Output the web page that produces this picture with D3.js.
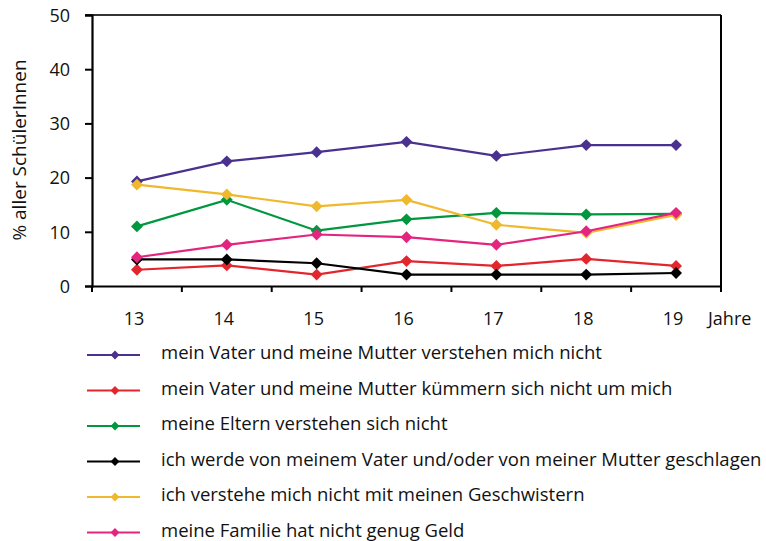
<!DOCTYPE html>
<html><head><meta charset="utf-8">
<script src="https://cdn.jsdelivr.net/npm/d3@7"></script>
<style>body{margin:0;background:#fff}svg{display:block}text{font-family:"Open Sans",sans-serif;fill:#111}</style>
</head><body>
<svg id="c" width="766" height="541"></svg>
<script>
const ages = ["13","14","15","16","17","18","19"];
const yTicks = [0,10,20,30,40,50];
const seriesNames = [
  "mein Vater und meine Mutter verstehen mich nicht",
  "mein Vater und meine Mutter kümmern sich nicht um mich",
  "meine Eltern verstehen sich nicht",
  "ich werde von meinem Vater und/oder von meiner Mutter geschlagen",
  "ich verstehe mich nicht mit meinen Geschwistern",
  "meine Familie hat nicht genug Geld"
];
const seriesColors = ["#4a3190","#e3262d","#00973f","#000000","#f0b82c","#e4257f"];
const vVerstehen = [19.3,23.0,24.7,26.6,24.0,26.0,26.0];
const vKuemmern  = [3.0,3.8,2.1,4.6,3.7,5.0,3.7];
const vEltern    = [11.0,15.9,10.2,12.3,13.5,13.2,13.3];
const vGeschlagen= [4.9,4.9,4.2,2.1,2.1,2.1,2.4];
const vGeschw    = [18.7,16.9,14.7,15.9,11.3,9.8,13.1];
const vGeld      = [5.3,7.6,9.5,9.0,7.6,10.1,13.5];
const allValues = [vVerstehen,vKuemmern,vEltern,vGeschlagen,vGeschw,vGeld];

const svg = d3.select("#c");
const L=92, R=721, T=15, B=286;
const x = d3.scaleBand().domain(ages).range([L,R]);
const y = d3.scaleLinear().domain([0,50]).range([B,T]);

// frame top & right
svg.append("line").attr("x1",L-7).attr("x2",R).attr("y1",T).attr("y2",T).attr("stroke","#333").attr("stroke-width",2);
svg.append("line").attr("x1",R).attr("x2",R).attr("y1",T).attr("y2",B+6).attr("stroke","#000").attr("stroke-width",2);

// y axis
const ya = svg.append("g").attr("transform",`translate(${L},0)`)
  .call(d3.axisLeft(y).tickValues(yTicks).tickSize(7).tickPadding(15));
ya.select(".domain").attr("stroke","#000").attr("stroke-width",2.2);
ya.selectAll(".tick line").attr("stroke","#000").attr("stroke-width",2);
ya.selectAll("text").style("font-size","18px").attr("dy","0.35em").attr("fill","#111");

// x axis
const xa = svg.append("g").attr("transform",`translate(0,${B})`)
  .call(d3.axisBottom(x).tickSize(0).tickPadding(0));
xa.select(".domain").attr("stroke","#000").attr("stroke-width",2.2);
xa.selectAll(".tick line").remove();
xa.selectAll("text").style("font-size","18px").attr("x",-3).attr("y",33).attr("dy","0.35em").attr("fill","#111");
// tick marks at band boundaries
const bounds = ages.map(a=>x(a)).concat([R]);
svg.append("g").selectAll("line").data(bounds).join("line")
  .attr("x1",d=>d).attr("x2",d=>d).attr("y1",B).attr("y2",B+6)
  .attr("stroke","#000").attr("stroke-width",2);
svg.append("text").attr("x",708).attr("y",B+33).attr("dy","0.35em").style("font-size","18px").text("Jahre");

// y title
svg.append("text").attr("transform",`translate(19,${150}) rotate(-90)`)
  .attr("text-anchor","middle").attr("dy","0.35em").style("font-size","19px").text("% aller SchülerInnen");

const diamond = d3.symbol().type(d3.symbolDiamond2);
const line = d3.line().x((d,i)=>x(ages[i])+x.bandwidth()/2).y(d=>y(d));

allValues.forEach((vals,k)=>{
  const g = svg.append("g");
  g.append("path").attr("d",line(vals)).attr("fill","none").attr("stroke",seriesColors[k]).attr("stroke-width",2.2);
  g.selectAll("path.m").data(vals).join("path").attr("class","m")
    .attr("d",diamond.size(90)())
    .attr("transform",(d,i)=>`translate(${x(ages[i])+x.bandwidth()/2},${y(d)})`)
    .attr("fill",seriesColors[k]);
});

// legend
const leg = svg.append("g");
seriesNames.forEach((n,k)=>{
  const yy = 355 + k*35.5;
  leg.append("line").attr("x1",87).attr("x2",140).attr("y1",yy).attr("y2",yy).attr("stroke",seriesColors[k]).attr("stroke-width",2.2);
  leg.append("path").attr("d",diamond.size(50)()).attr("transform",`translate(115,${yy})`).attr("fill",seriesColors[k]);
  leg.append("text").attr("x",161).attr("y",yy-2).attr("dy","0.35em").style("font-size","18.5px").text(n);
});
</script>
</body></html>
